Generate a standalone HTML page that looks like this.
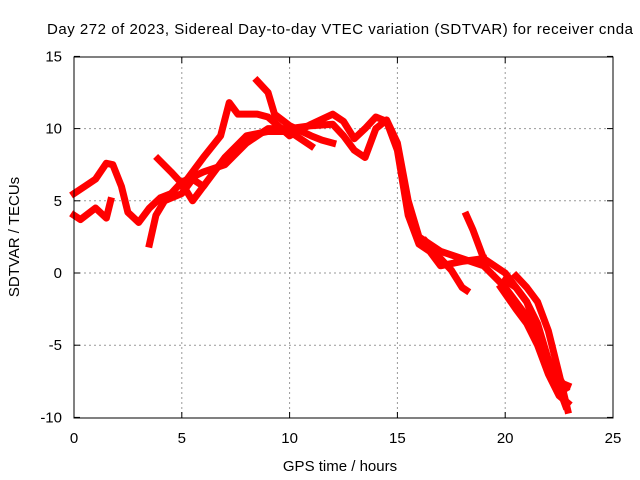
<!DOCTYPE html>
<html><head><meta charset="utf-8"><style>
body{margin:0;background:#fff}
svg{display:block;font-family:"Liberation Sans",sans-serif}
</style></head><body>
<svg width="640" height="480" id="chart">
<text x="340" y="34" font-size="15" text-anchor="middle" textLength="586">Day 272 of 2023, Sidereal Day-to-day VTEC variation (SDTVAR) for receiver cnda</text>
<text x="340" y="471" font-size="15" text-anchor="middle">GPS time / hours</text>
<text transform="translate(19,237) rotate(-90)" font-size="15" text-anchor="middle">SDTVAR / TECUs</text>
<g id="grid"></g><g id="ticks"></g><g id="series"></g>
<rect x="74" y="57" width="539" height="361" fill="none" stroke="#000" stroke-width="1"/>
</svg>
<script>
const xTicks=[0,5,10,15,20,25];
const yTicks=[-10,-5,0,5,10,15];
const trackA=[[0,5.5],[0.5,6],[1,6.5],[1.5,7.6],[1.8,7.5],[2.2,6],[2.5,4.2],[3,3.5],[3.5,4.5],[4,5.2],[4.5,5.5],[5,6.3],[6,7],[7,7.5],[8,9],[9,10],[10,10],[11,10.2],[12,10.3],[12.5,9.5],[13,8.5],[13.5,8],[14,10],[14.5,10.6],[15,9],[15.5,5],[16,2.5],[17,1.5],[18,1],[19,0.5],[20,-1],[21,-3],[22,-6],[22.8,-9.2]];
const trackB=[[5,6],[6,8],[6.8,9.5],[7.2,11.8],[7.6,11],[8.5,11],[9,10.8],[10,9.5],[11,10.3],[12,11],[12.5,10.5],[13,9.3],[13.5,10],[14,10.8],[14.5,10.5],[15,8.5],[15.5,4],[16,2],[16.5,1.5],[17,0.5],[18,0.8],[19,1]];
const trackC=[[8.5,13.3],[9,12.5],[9.3,11],[10,10.2],[11,9.5],[11.5,9.2],[12,9]];
const trackD=[[3.5,2],[3.8,4],[4.2,5],[5,5.5],[5.5,6.5],[6,6],[7,8],[8,9.5],[9,9.8],[10,9.8],[11,8.8]];
const trackE=[[3.9,7.9],[4.5,7],[5,6.2],[5.5,5],[6,6]];
const trackF=[[18.2,4],[18.5,3],[19,1],[20,0],[21,-2],[22,-6],[22.8,-8]];
const trackG=[[16.3,2.2],[17,1],[17.5,0.2],[18,-1],[18.2,-1.2]];
const trackH=[[20,-0.5],[20.5,-1],[21,-2],[21.5,-3.5],[22,-6],[22.4,-7.5],[22.9,-7.8]];
const trackI=[[0,4],[0.3,3.7],[1,4.5],[1.5,3.8],[1.7,5]];
const trackJ=[[20.5,-0.2],[21,-1],[21.5,-2],[22,-4],[22.5,-7],[22.9,-9.5]];
const trackK=[[19.8,-1],[20.5,-2.5],[21,-3.5],[21.5,-5],[22,-7],[22.5,-8.5],[22.9,-9]];
const tracks=[trackA,trackB,trackC,trackD,trackE,trackF,trackG,trackH,trackI,trackJ,trackK];
const X=v=>74+v*539/25, Y=v=>273-v*14.44;
const ns='http://www.w3.org/2000/svg';
const grid=document.getElementById('grid'),ticks=document.getElementById('ticks'),ser=document.getElementById('series');
function mk(t,a,p){const e=document.createElementNS(ns,t);for(const k in a)e.setAttribute(k,a[k]);p.appendChild(e);return e;}
xTicks.forEach(v=>{
 if(v>0&&v<25){const g=mk('line',{x1:X(v),x2:X(v),y1:57,y2:418,stroke:'#999','stroke-dasharray':'2,3'},grid);
 
 }
 mk('line',{x1:X(v),x2:X(v),y1:418,y2:412,stroke:'#000'},ticks);
 mk('line',{x1:X(v),x2:X(v),y1:57,y2:63,stroke:'#000'},ticks);
 const t=mk('text',{x:X(v),y:443,'font-size':15,'text-anchor':'middle'},ticks);t.textContent=v;
 
 
});
yTicks.forEach(v=>{
 if(v>-10&&v<15){const g=mk('line',{x1:74,x2:613,y1:Y(v),y2:Y(v),stroke:'#999','stroke-dasharray':'2,3'},grid);
 
 }
 mk('line',{x1:74,x2:80,y1:Y(v),y2:Y(v),stroke:'#000'},ticks);
 mk('line',{x1:613,x2:607,y1:Y(v),y2:Y(v),stroke:'#000'},ticks);
 const t=mk('text',{x:62,y:Y(v)+5,'font-size':15,'text-anchor':'end'},ticks);t.textContent=v;
 
 
});
tracks.forEach((tr,i)=>{
 const p=mk('polyline',{points:tr.map(d=>X(d[0])+','+Y(d[1])).join(' '),fill:'none',stroke:'#f00','stroke-width':7,'stroke-linejoin':'round','stroke-linecap':'square'},ser);
 
 
});
</script>
</body></html>
